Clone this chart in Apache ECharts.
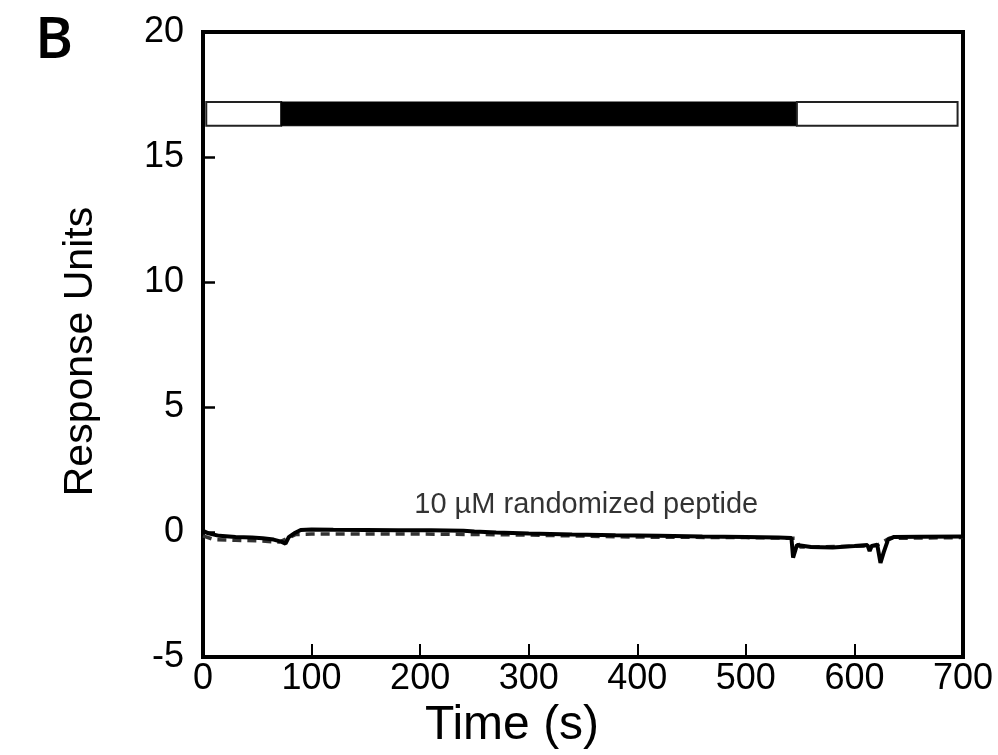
<!DOCTYPE html>
<html>
<head>
<meta charset="utf-8">
<script src="https://cdn.jsdelivr.net/npm/echarts@6/dist/echarts.min.js"></script>
<style>
html,body{margin:0;padding:0;background:#fff;}
#chart{width:998px;height:755px;}
</style>
</head>
<body>
<div id="chart"></div>
<script>
// ---- data ----
const xTicks = [0, 100, 200, 300, 400, 500, 600, 700];
const yTicks = [-5, 0, 5, 10, 15, 20];

// solid trace: [time (s), response units]
const solidTrace = [
  [0, 0.05], [5, -0.05], [15, -0.15], [30, -0.2], [45, -0.22], [55, -0.25], [65, -0.3],
  [72, -0.38], [76, -0.46], [79, -0.2], [84, -0.05], [90, 0.08], [100, 0.1], [120, 0.09],
  [150, 0.08], [180, 0.07], [210, 0.07], [240, 0.05], [250, 0.02], [270, -0.02], [300, -0.06],
  [340, -0.1], [380, -0.13], [420, -0.15], [460, -0.18], [500, -0.2], [530, -0.22], [542, -0.24],
  [543.5, -1.02], [545, -0.95], [547, -0.52], [560, -0.6], [580, -0.62], [600, -0.56], [612, -0.52],
  [614, -0.76], [616, -0.55], [621, -0.5], [624, -1.23], [627, -0.8], [631, -0.3], [636, -0.2],
  [660, -0.19], [700, -0.18]
];

// dashed reference trace
const dashedTrace = [
  [0, -0.15], [10, -0.3], [30, -0.33], [50, -0.35], [70, -0.4], [78, -0.25], [85, -0.1],
  [100, -0.08], [200, -0.08], [260, -0.1], [300, -0.12], [400, -0.2], [500, -0.22], [545, -0.25],
  [550, -0.6], [620, -0.55], [632, -0.25], [700, -0.22]
];

// injection bar: segments [start, end] and phase
const barStart = [3, 72, 547];
const barEnd = [72, 547, 695];
const barPhase = ['buffer', 'peptide', 'buffer'];
const barLow = 16.25;
const barHigh = 17.2;

// annotation
const annotationText = ['10 µM randomized peptide'];
const annotationPos = [[353, 1.1]];

// ---- chart ----
const phaseStyle = {
  buffer: { fill: '#ffffff', stroke: '#222', lineWidth: 2 },
  peptide: { fill: '#000000', stroke: '#000', lineWidth: 1 }
};

const barData = barStart.map((s, i) => [s, barEnd[i], barLow, barHigh, i]);

const chart = echarts.init(document.getElementById('chart'), null, { renderer: 'canvas' });
const font = 'Liberation Sans, Arial, sans-serif';

chart.setOption({
  animation: false,
  backgroundColor: '#fff',
  grid: { left: 203, right: 35, top: 32, bottom: 95, show: true, borderColor: '#000', borderWidth: 4, backgroundColor: 'transparent' },
  xAxis: {
    type: 'value', min: 0, max: 700, interval: 100,
    name: 'Time (s)', nameLocation: 'middle', nameGap: 40,
    nameTextStyle: { fontFamily: font, fontSize: 48, color: '#000', padding: [0, 142, 0, 0] },
    axisLine: { show: true, onZero: false, lineStyle: { color: '#000', width: 4 } },
    axisTick: { show: true, inside: true, length: 13, lineStyle: { color: '#000', width: 2 } },
    axisLabel: { fontFamily: font, fontSize: 36, color: '#000', margin: 4,
      formatter: v => xTicks.includes(v) ? String(v) : '' },
    splitLine: { show: false }
  },
  yAxis: {
    type: 'value', min: -5, max: 20, interval: 5,
    name: 'Response Units', nameLocation: 'middle', nameGap: 102,
    nameTextStyle: { fontFamily: font, fontSize: 41, color: '#000', padding: [0, 14, 0, 0] },
    axisLine: { show: true, onZero: false, lineStyle: { color: '#000', width: 4 } },
    axisTick: { show: true, inside: true, length: 12, lineStyle: { color: '#000', width: 2.5 } },
    axisLabel: { fontFamily: font, fontSize: 36, color: '#000', margin: 19,
      formatter: v => yTicks.includes(v) ? String(v) : '' },
    splitLine: { show: false }
  },
  graphic: [{
    type: 'text', left: 35, top: 12,
    style: { text: 'B', font: '600 58px "Open Sans", sans-serif', fill: '#000' }
  }],
  series: [
    {
      type: 'line', data: dashedTrace, showSymbol: false, symbol: 'none', z: 3,
      lineStyle: { color: '#333', width: 3.5, type: [9, 6] }
    },
    {
      type: 'line', data: solidTrace, showSymbol: false, symbol: 'none', z: 4,
      lineStyle: { color: '#000', width: 4 }
    },
    {
      type: 'custom', z: 5,
      renderItem: function (params, api) {
        const p0 = api.coord([api.value(0), api.value(3)]);
        const p1 = api.coord([api.value(1), api.value(2)]);
        const st = phaseStyle[barPhase[api.value(4)]];
        return {
          type: 'rect',
          shape: { x: p0[0], y: p0[1], width: p1[0] - p0[0], height: p1[1] - p0[1] },
          style: { fill: st.fill, stroke: st.stroke, lineWidth: st.lineWidth }
        };
      },
      encode: { x: [0, 1], y: [2, 3] },
      data: barData
    },
    {
      type: 'scatter', symbolSize: 0, z: 6,
      data: annotationPos.map((p, i) => ({ value: p, name: annotationText[i] })),
      label: { show: true, position: 'inside', formatter: p => p.name,
        fontFamily: font, fontSize: 29, color: '#000' }
    }
  ]
});
</script>
</body>
</html>
